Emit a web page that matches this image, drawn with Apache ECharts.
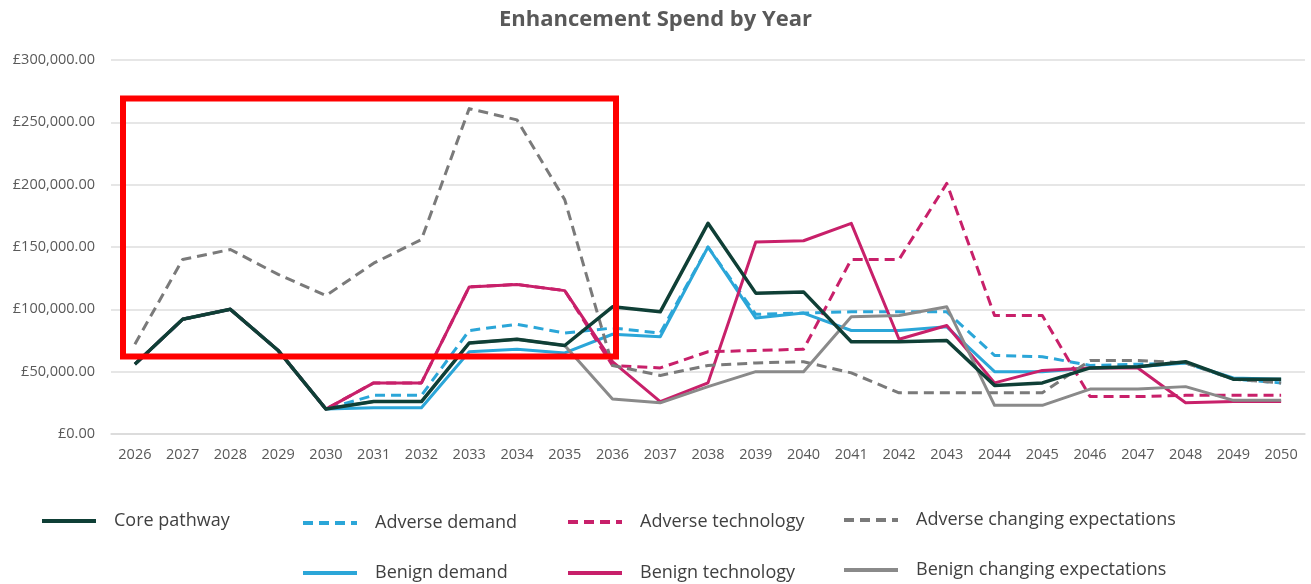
<!DOCTYPE html>
<html>
<head>
<meta charset="utf-8">
<title>Enhancement Spend by Year</title>
<script src="https://cdn.jsdelivr.net/npm/echarts@6/dist/echarts.min.js"></script>
<style>
  html, body { margin: 0; padding: 0; background: #ffffff; }
  #chart { width: 1311px; height: 584px; }
</style>
</head>
<body>
<div id="chart"></div>
<script>
// Years on the horizontal axis
const years = ['2026','2027','2028','2029','2030','2031','2032','2033','2034','2035','2036','2037',
  '2038','2039','2040','2041','2042','2043','2044','2045','2046','2047','2048','2049','2050'];

// Annual enhancement spend (£) per scenario
const corePathway = [56000, 92000, 100000, 67000, 20000, 26000, 26000, 73000, 76000, 71000, 102000, 98000,
  169000, 113000, 114000, 74000, 74000, 75000, 39000, 41000, 53000, 54000, 58000, 44000, 44000];
const adverseDemand = [56000, 92000, 100000, 67000, 20000, 31000, 31000, 83000, 88000, 81000, 85000, 81000,
  150000, 96000, 97000, 98000, 98000, 98000, 63000, 62000, 55000, 56000, 57000, 44000, 41000];
const adverseTechnology = [56000, 92000, 100000, 67000, 20000, 41000, 41000, 118000, 120000, 115000, 55000, 53000,
  66000, 67000, 68000, 140000, 140000, 201000, 95000, 95000, 30000, 30000, 31000, 31000, 31000];
const adverseChangingExpectations = [72000, 140000, 148000, 128000, 111000, 137000, 156000, 261000, 252000, 188000, 55000, 47000,
  55000, 57000, 58000, 49000, 33000, 33000, 33000, 33000, 59000, 59000, 57000, 44000, 41000];
const benignDemand = [56000, 92000, 100000, 67000, 20000, 21000, 21000, 66000, 68000, 65000, 80000, 78000,
  150000, 93000, 97000, 83000, 83000, 86000, 50000, 50000, 53000, 54000, 57000, 45000, 44000];
const benignTechnology = [56000, 92000, 100000, 67000, 20000, 41000, 41000, 118000, 120000, 115000, 58000, 26000,
  41000, 154000, 155000, 169000, 76000, 87000, 41000, 51000, 53000, 53000, 25000, 26000, 26000];
const benignChangingExpectations = [56000, 92000, 100000, 67000, 20000, 26000, 26000, 73000, 76000, 71000, 28000, 25000,
  38000, 50000, 50000, 94000, 95000, 102000, 23000, 23000, 36000, 36000, 38000, 27000, 27000];

// Value-axis tick settings
const yMin = 0, yMax = 300000, yStep = 50000;

const FONT = 'Open Sans, Lato, sans-serif';
const TEXT = '#595959';

const C_CORE = '#0f3f36';
const C_DEMAND = '#2ba6d8';
const C_TECH = '#c8206a';
const C_EXP_DASH = '#7a7a7a';
const C_EXP_SOLID = '#8a8a8a';

function pounds(v) {
  const s = Math.round(v).toString().replace(/\B(?=(\d{3})+(?!\d))/g, ',');
  return '£' + s + '.00';
}

function line(name, data, color, dashed, width, z) {
  return {
    name: name,
    type: 'line',
    data: data,
    symbol: 'none',
    smooth: false,
    z: z,
    lineStyle: {
      color: color,
      width: width,
      type: dashed ? [10, 6] : 'solid',
      cap: 'butt',
      join: 'round'
    },
    itemStyle: { color: color },
    emphasis: { disabled: true }
  };
}

// One legend block per entry so each sits in its own column
function legendAt(name, left, top) {
  return {
    data: [name],
    left: left,
    top: top,
    orient: 'horizontal',
    itemWidth: 54,
    itemHeight: 16,
    itemGap: 20,
    selectedMode: false,
    itemStyle: { opacity: 0 },
    lineStyle: { width: 4 },
    textStyle: { fontFamily: FONT, fontSize: 18, color: '#404040', padding: [0, 0, 0, 13] }
  };
}

const chart = echarts.init(document.getElementById('chart'), null, { renderer: 'canvas' });

chart.setOption({
  animation: false,
  backgroundColor: '#ffffff',
  title: {
    text: 'Enhancement Spend by Year',
    left: 'center',
    top: 4,
    textStyle: { fontFamily: FONT, fontSize: 22, fontWeight: 'bold', color: TEXT }
  },
  grid: { left: 111, right: 6, top: 60, bottom: 150, containLabel: false },
  xAxis: {
    type: 'category',
    data: years,
    boundaryGap: true,
    axisLine: { show: true, lineStyle: { color: '#d9d9d9', width: 1.5 } },
    axisTick: { show: false },
    axisLabel: { fontFamily: FONT, fontSize: 14.5, color: TEXT, margin: 13, interval: 0 }
  },
  yAxis: {
    type: 'value',
    min: yMin,
    max: yMax,
    interval: yStep,
    axisLine: { show: false },
    axisTick: { show: false },
    splitLine: { lineStyle: { color: '#dedede', width: 1.5 } },
    axisLabel: { fontFamily: FONT, fontSize: 14.5, color: TEXT, margin: 16, formatter: pounds }
  },
  legend: [
    legendAt('Core pathway', 35, 507),
    legendAt('Adverse demand', 296, 509),
    legendAt('Adverse technology', 561, 508),
    legendAt('Adverse changing expectations', 837, 506),
    legendAt('Benign demand', 296, 559),
    legendAt('Benign technology', 561, 559),
    legendAt('Benign changing expectations', 837, 556)
  ],
  series: [
    line('Adverse demand', adverseDemand, C_DEMAND, true, 3, 3),
    line('Adverse technology', adverseTechnology, C_TECH, true, 3, 4),
    line('Adverse changing expectations', adverseChangingExpectations, C_EXP_DASH, true, 3, 5),
    line('Benign demand', benignDemand, C_DEMAND, false, 3, 3),
    line('Benign technology', benignTechnology, C_TECH, false, 3, 4),
    line('Benign changing expectations', benignChangingExpectations, C_EXP_SOLID, false, 3, 5),
    line('Core pathway', corePathway, C_CORE, false, 3.5, 6)
  ],
  graphic: [
    {
      type: 'rect',
      z: 100,
      silent: true,
      shape: { x: 123, y: 98.5, width: 493, height: 258 },
      style: { fill: 'none', stroke: '#ff0000', lineWidth: 6 }
    }
  ]
});
</script>
</body>
</html>
